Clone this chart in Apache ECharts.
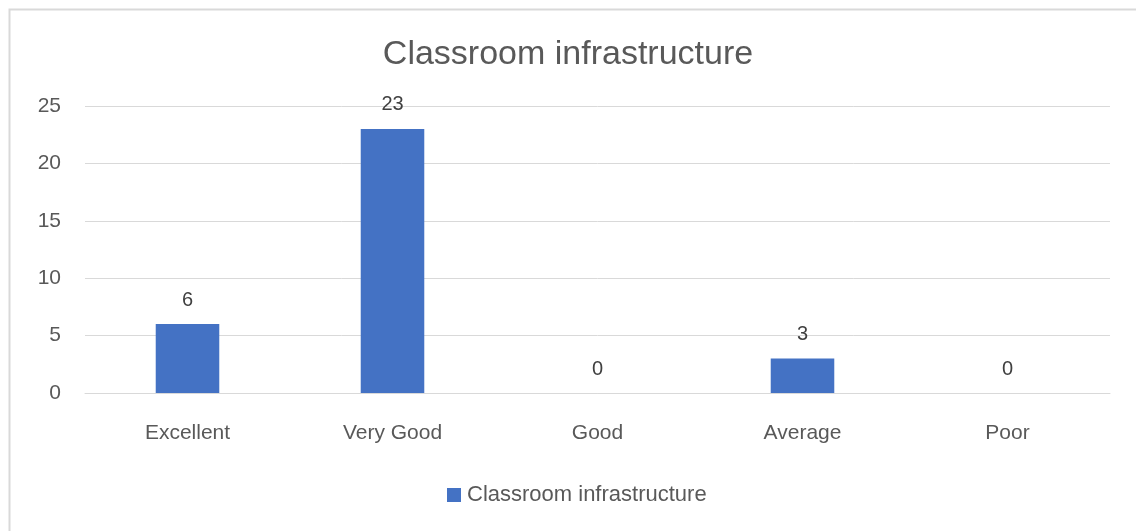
<!DOCTYPE html>
<html>
<head>
<meta charset="utf-8">
<script src="https://cdn.jsdelivr.net/npm/echarts@6/dist/echarts.min.js"></script>
<style>html,body{margin:0;padding:0;background:#fff;}#c{width:1136px;height:531px;}</style>
</head>
<body>
<div id="c"></div>
<script>
const categories = ['Excellent', 'Very Good', 'Good', 'Average', 'Poor'];
const values = [6, 23, 0, 3, 0];
const yTicks = [0, 5, 10, 15, 20, 25];
const seriesName = 'Classroom infrastructure';
const titleText = 'Classroom infrastructure';

const FONT = 'Liberation Sans';
const chart = echarts.init(document.getElementById('c'), null, {renderer: 'canvas'});
chart.setOption({
  animation: false,
  backgroundColor: '#fff',
  graphic: [{
    type: 'rect', left: 7, top: 7,
    shape: {x: 0, y: 0, width: 1140, height: 540},
    style: {fill: 'none', stroke: '#d9d9d9', lineWidth: 2},
    silent: true, z: -1
  }],
  title: {
    text: titleText, left: 'center', top: 33,
    textStyle: {fontFamily: FONT, fontSize: 34, fontWeight: 'normal', color: '#595959'}
  },
  legend: {
    top: 484, left: 447, padding: 0, itemWidth: 14, itemHeight: 14, itemGap: 10,
    icon: 'rect',
    textStyle: {fontFamily: FONT, fontSize: 22, color: '#595959', padding: [0, 0, 0, 1]},
    data: [seriesName]
  },
  grid: {left: 85, right: 26, top: 106, bottom: 138, containLabel: false},
  xAxis: {
    type: 'category', data: categories,
    axisLine: {show: true, lineStyle: {color: '#d9d9d9', width: 1}},
    axisTick: {show: false},
    axisLabel: {fontFamily: FONT, fontSize: 21, color: '#595959', margin: 30}
  },
  yAxis: {
    type: 'value', min: yTicks[0], max: yTicks[yTicks.length - 1], interval: 5,
    axisLine: {show: false}, axisTick: {show: false},
    splitLine: {lineStyle: {color: '#d9d9d9', width: 1}},
    axisLabel: {fontFamily: FONT, fontSize: 21, color: '#595959', margin: 24}
  },
  series: [{
    name: seriesName, type: 'bar', data: values, barWidth: '31%',
    itemStyle: {color: '#4472C4'},
    label: {show: true, position: 'top', distance: 14, fontFamily: FONT, fontSize: 20, color: '#404040'}
  }]
});
</script>
</body>
</html>
